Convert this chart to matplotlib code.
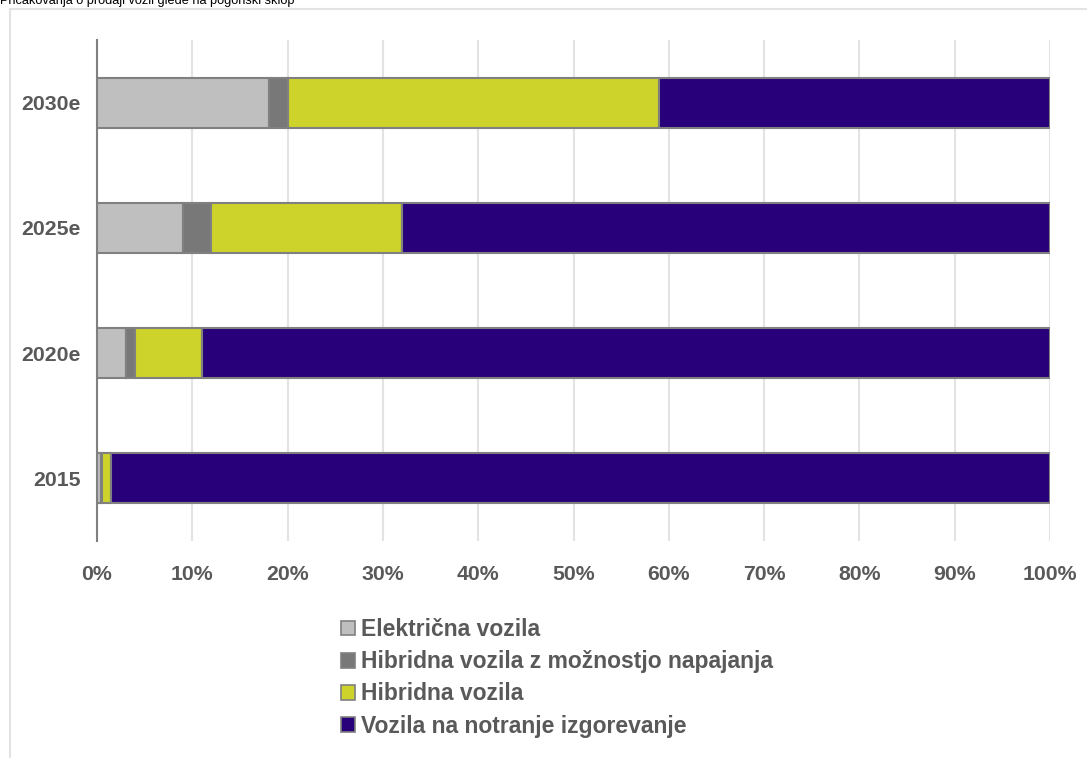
import matplotlib
matplotlib.use("Agg")
import matplotlib.pyplot as plt
from matplotlib.patches import Patch
from matplotlib.lines import Line2D
import numpy as np

plt.rcParams['font.family'] = ['Liberation Sans', 'DejaVu Sans']

title = "Pričakovanja o prodaji vozil glede na pogonski sklop"
years = ["2015", "2020e", "2025e", "2030e"]
series_names = ["Električna vozila",
                "Hibridna vozila z možnostjo napajanja",
                "Hibridna vozila",
                "Vozila na notranje izgorevanje"]
electric = [0.4, 3, 9, 18]
phev = [0.1, 1, 3, 2]
hybrid = [1.0, 7, 20, 39]
ice = [98.5, 89, 68, 41]
colors = ["#bfbfbf", "#787878", "#cdd32a", "#28007a"]
xticks = list(range(0, 101, 10))

W, H = 1087, 758
fig = plt.figure(figsize=(W / 100, H / 100), dpi=100)
ax = fig.add_axes([97 / W, 1 - 541 / H, (1050 - 97) / W, (541 - 40) / H])

y = np.arange(len(years))
left = np.zeros(len(years))
for vals, col in zip([electric, phev, hybrid, ice], colors):
    ax.barh(y, vals, left=left, height=0.4, color=col, edgecolor="#808080",
            linewidth=1.5, zorder=3)
    left += np.array(vals)

ax.set_xlim(0, 100)
ax.set_ylim(-0.5, 3.5)
ax.set_xticks(xticks)
ax.set_xticklabels([f"{t}%" for t in xticks])
ax.set_yticks(y)
ax.set_yticklabels(years)
ax.tick_params(axis='both', length=0, labelsize=15.3, labelcolor="#595959")
ax.tick_params(axis='x', pad=17)
ax.tick_params(axis='y', pad=12)
for lab in ax.get_xticklabels() + ax.get_yticklabels():
    lab.set_fontweight('bold')
ax.xaxis.grid(True, color="#e3e3e3", linewidth=1.5, zorder=0)
ax.set_axisbelow(True)
for s in ['top', 'right', 'bottom']:
    ax.spines[s].set_visible(False)
ax.spines['left'].set_color("#808080")
ax.spines['left'].set_linewidth(1.5)
ax.spines['left'].set_zorder(4)

# outer frame (partially visible)
fig.add_artist(Line2D([9.5 / W, 1], [1 - 8.5 / H, 1 - 8.5 / H], color="#e3e3e3", lw=1.5,
                      transform=fig.transFigure))
fig.add_artist(Line2D([9.5 / W, 9.5 / W], [0, 1 - 8.5 / H], color="#e3e3e3", lw=1.5,
                      transform=fig.transFigure))

fig.text(0.0, 1 - 4 / H, title, fontsize=9.2, color="black", va='baseline', ha='left')

handles = [Patch(facecolor=c, edgecolor="#808080", linewidth=1.2) for c in colors]
leg = fig.legend(handles, series_names, loc='upper left',
                 bbox_to_anchor=(341 / W, 1 - 618 / H), frameon=False,
                 fontsize=16.5, handlelength=0.62, handleheight=0.62,
                 handletextpad=0.25, labelspacing=0.40, borderpad=0, borderaxespad=0)
for t in leg.get_texts():
    t.set_fontweight('bold')
    t.set_color("#595959")

fig.savefig("out.png", dpi=100)
